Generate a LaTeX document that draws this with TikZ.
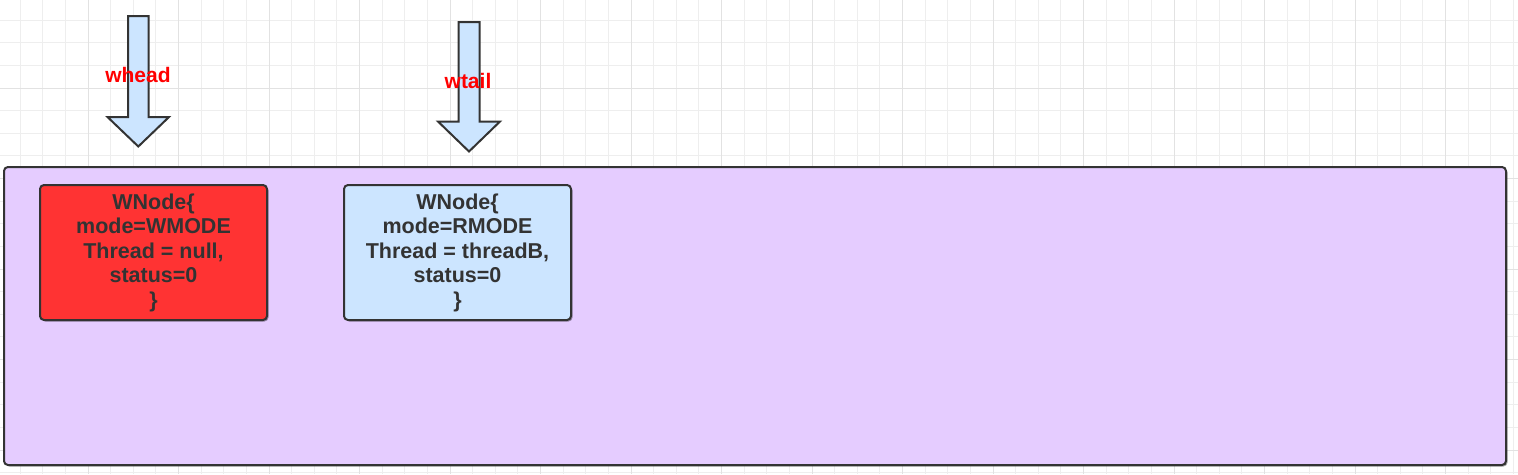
\documentclass[tikz,border=0pt]{standalone}
\usepackage{fontspec}
\setmainfont{Liberation Sans}
\usetikzlibrary{shadows}
\definecolor{gridminor}{HTML}{EEEEEE}
\definecolor{gridmajor}{HTML}{E2E2E2}
\definecolor{purplefill}{HTML}{E5CCFF}
\definecolor{redfill}{HTML}{FF3333}
\definecolor{bluefill}{HTML}{CCE5FF}
\definecolor{edgegray}{HTML}{333333}
\definecolor{labelred}{HTML}{FF0000}
\tikzset{
  boxshape/.style={draw=edgegray, line width=2pt, rounded corners=4pt,
    drop shadow={shadow xshift=1.5pt, shadow yshift=-1.5pt, opacity=0.35, fill=black}},
  wnode/.style={boxshape, minimum width=227, minimum height=135, align=center,
    text=edgegray, font=\fontsize{21.5}{24.5}\selectfont\bfseries, inner sep=0pt},
  pointer/.style={draw=edgegray, fill=bluefill, line width=2pt, line join=miter},
  ptrlabel/.style={text=labelred, font=\fontsize{21}{24}\selectfont\bfseries, inner sep=0pt}
}
\begin{document}
\begin{tikzpicture}[x=1pt,y=-1pt]
\useasboundingbox (0,0) rectangle (1518,474);
\fill[white] (0,0) rectangle (1518,474);
% grid
\foreach \k in {1,...,67} {
  \draw[gridminor, line width=1pt] ({-2.5+\k*22.625},0) -- ({-2.5+\k*22.625},474);
}
\foreach \k in {1,...,21} {
  \draw[gridminor, line width=1pt] (0,{-2.5+\k*22.625}) -- (1518,{-2.5+\k*22.625});
}
\foreach \k in {4,8,...,64} {
  \draw[gridmajor, line width=1pt] ({-2.5+\k*22.625},0) -- ({-2.5+\k*22.625},474);
}
\foreach \k in {4,8,...,20} {
  \draw[gridmajor, line width=1pt] (0,{-2.5+\k*22.625}) -- (1518,{-2.5+\k*22.625});
}
% container
\node[boxshape, fill=purplefill, minimum width=1502, minimum height=298, inner sep=0pt] (queue) at (755,316) {};
% nodes
\node[wnode, fill=redfill] (nodeA) at (153.5,252.5) {WNode\{\\mode=WMODE\\Thread = null,\\status=0\\\}};
\node[wnode, fill=bluefill] (nodeB) at (457.5,252.5) {WNode\{\\mode=RMODE\\Thread = threadB,\\status=0\\\}};
% pointer arrows
\coordinate (headtip) at (138.3,146.5);
\coordinate (tailtip) at (469,151.5);
\draw[pointer] (128,16) -- (148.5,16) -- (148.5,117) -- (169,117) -- (headtip) -- (107.5,117) -- (128,117) -- cycle;
\draw[pointer] (458.5,22) -- (479.5,22) -- (479.5,121.5) -- (500,121.5) -- (tailtip) -- (438,121.5) -- (458.5,121.5) -- cycle;
\node[ptrlabel] (whead) at (138,75) {whead};
\node[ptrlabel] (wtail) at (468,80.5) {wtail};
\end{tikzpicture}
\end{document}
